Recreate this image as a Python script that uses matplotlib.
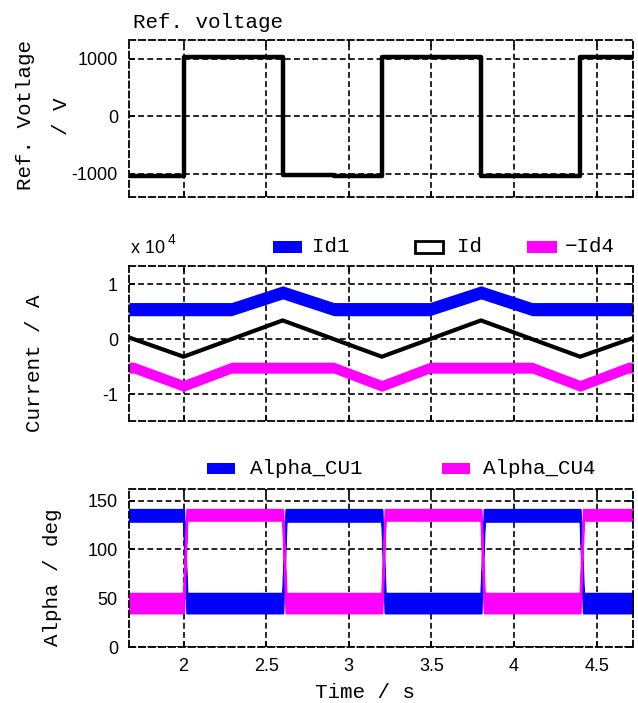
import matplotlib
matplotlib.use("Agg")
import matplotlib.pyplot as plt
from matplotlib.patches import Rectangle
from matplotlib.ticker import FuncFormatter

W, H = 638, 703

time_ticks = [2, 2.5, 3, 3.5, 4, 4.5]
t_lim = (1.67, 4.72)

# reference voltage (V), value holds until the next time
vref_t = [1.67, 2.0, 2.6, 2.91, 3.2, 3.8, 4.4, 4.72]
vref_v = [-1035, 1035, -1010, -1035, 1035, -1035, 1035, 1035]

# dc currents (A)
id_t = [1.67, 2.0, 2.6, 3.2, 3.8, 4.4, 4.72]
id_v = [300, -3200, 3400, -3200, 3400, -3200, 200]

id1_t = [1.67, 2.29, 2.6, 2.91, 3.49, 3.8, 4.11, 4.72]
id1_v = [5450, 5450, 8500, 5450, 5450, 8500, 5450, 5450]
id1_ripple = 1200

id4_t = [1.67, 1.70, 2.0, 2.29, 2.91, 3.2, 3.49, 4.11, 4.4, 4.69, 4.72]
id4_v = [-5200, -5200, -8500, -5200, -5200, -8500, -5200, -5200, -8500, -5200, -5200]
id4_ripple = 1000

# firing angles (deg), one band per interval
alpha_start = [1.67, 2.02, 2.62, 3.22, 3.82, 4.42]
alpha_end = [2.00, 2.60, 3.20, 3.80, 4.40, 4.72]
cu1_high = [141, 55, 141, 55, 141, 55]
cu1_low = [129, 35, 129, 35, 129, 35]
cu4_high = [55, 141, 55, 141, 55, 141]
cu4_low = [35, 130, 35, 130, 35, 130]

BLUE = "#0000ff"
MAGENTA = "#ff00ff"
SANS = "Liberation Sans"
MONO = ["Liberation Mono", "DejaVu Sans Mono"]
DASH = (0, (3.5, 2))

plt.rcParams["axes.unicode_minus"] = False
plt.rcParams["font.family"] = SANS

fig = plt.figure(figsize=(W / 100, H / 100), dpi=100)


def add_axes(top, bottom):
    return fig.add_axes([129 / W, 1 - bottom / H, 504 / W, (bottom - top) / H])


def style(ax, yticks, ylim):
    ax.set_xlim(t_lim)
    ax.set_ylim(ylim)
    ax.set_xticks(time_ticks)
    ax.set_yticks(yticks)
    ax.xaxis.set_major_formatter(FuncFormatter(lambda v, p: f"{v:g}"))
    ax.grid(True, color="k", linestyle=DASH, linewidth=1.2)
    ax.set_axisbelow(True)
    for s in ax.spines.values():
        s.set_linestyle(DASH)
        s.set_linewidth(1.3)
    ax.tick_params(direction="in", length=4, width=1.2, top=True, right=True,
                   labelsize=13, pad=8)


def fig_text(x, y, s, **kw):
    fig.text(x / W, 1 - y / H, s, **kw)


def fig_rect(x, y, w, h, **kw):
    fig.add_artist(Rectangle((x / W, 1 - (y + h) / H), w / W, h / H,
                             transform=fig.transFigure, **kw))


def band(ax, t, v, ripple, color):
    upper = [c + ripple for c in v]
    lower = [c - ripple for c in v]
    ax.fill_between(t, lower, upper, color=color, linewidth=0)


def alpha_band(ax, high, low, color):
    t, up, lo = [], [], []
    for s, e, h, l in zip(alpha_start, alpha_end, high, low):
        t += [s, e]
        up += [h, h]
        lo += [l, l]
    # edge stroke keeps the switching flanks visible
    ax.fill_between(t, lo, up, facecolor=color, edgecolor=color, linewidth=1.6)


# reference voltage
ax1 = add_axes(40, 197)
ax1.plot(vref_t, vref_v, drawstyle="steps-post", color="k", linewidth=3.2)
style(ax1, [-1000, 0, 1000], (-1400, 1330))
ax1.set_xticklabels([])

# currents
ax2 = add_axes(266, 421)
band(ax2, id1_t, id1_v, id1_ripple, BLUE)
band(ax2, id4_t, id4_v, id4_ripple, MAGENTA)
ax2.plot(id_t, id_v, color="k", linewidth=3)
style(ax2, [-10000, 0, 10000], (-14900, 13300))
ax2.yaxis.set_major_formatter(FuncFormatter(lambda v, p: f"{v / 1e4:g}"))
ax2.set_xticklabels([])

# firing angles
ax3 = add_axes(489, 647)
alpha_band(ax3, cu1_high, cu1_low, BLUE)
alpha_band(ax3, cu4_high, cu4_low, MAGENTA)
style(ax3, [0, 50, 100, 150], (0, 162))

# titles and axis labels
fig_text(133, 23, "Ref. voltage", family=MONO, fontsize=15, ha="left", va="center")
fig_text(26, 115, "Ref. Votlage", family=MONO, fontsize=15, rotation=90,
         ha="center", va="center")
fig_text(62, 116, "/ V", family=MONO, fontsize=15, rotation=90,
         ha="center", va="center")
fig_text(35, 363, "Current / A", family=MONO, fontsize=15, rotation=90,
         ha="center", va="center")
fig_text(52, 577, "Alpha / deg", family=MONO, fontsize=15, rotation=90,
         ha="center", va="center")
fig_text(365, 692, "Time / s", family=MONO, fontsize=15, ha="center", va="center")

fig_text(131, 253, "x 10", fontsize=13, ha="left", va="baseline")
fig_text(168, 244, "4", fontsize=10, ha="left", va="baseline")

# legends
fig_rect(273, 241, 29, 12, facecolor=BLUE, edgecolor="none")
fig_text(312, 247, "Id1", family=MONO, fontsize=15, ha="left", va="center")
fig_rect(415, 241, 28, 12, facecolor="white", edgecolor="k", linewidth=2)
fig_text(457, 247, "Id", family=MONO, fontsize=15, ha="left", va="center")
fig_rect(527, 241, 30, 12, facecolor=MAGENTA, edgecolor="none")
fig_text(565, 247, "\u2212Id4", family=MONO, fontsize=15, ha="left", va="center")

fig_rect(207, 463, 28, 11, facecolor=BLUE, edgecolor="none")
fig_text(250, 468, "Alpha_CU1", family=MONO, fontsize=15, ha="left", va="center")
fig_rect(442, 463, 28, 11, facecolor=MAGENTA, edgecolor="none")
fig_text(483, 468, "Alpha_CU4", family=MONO, fontsize=15, ha="left", va="center")

fig.savefig("out.png", dpi=100)
